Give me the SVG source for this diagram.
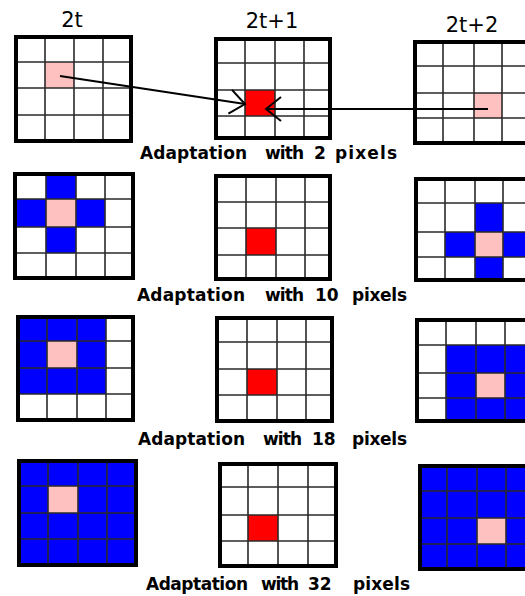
<svg xmlns="http://www.w3.org/2000/svg" width="525" height="596" viewBox="0 0 525 596">
<style>
.bg{fill:#fff}
.pk{fill:#ffc0c0}
.bl{fill:#0000ff}
.rd{fill:#ff0000}
.gl{fill:none;stroke:#2a2a2a;stroke-width:1.6}
.bd{fill:none;stroke:#000;stroke-width:4}
.hd{font-family:"DejaVu Sans",Verdana,sans-serif;font-size:21px;fill:#000;text-anchor:middle}
.lb{font-family:"DejaVu Sans","Liberation Sans",sans-serif;font-weight:bold;font-size:17px;fill:#000}
.cn{fill:none;stroke:#000;stroke-width:2}
</style>
<defs>
<marker id="arr" markerUnits="userSpaceOnUse" viewBox="-20 -15 24 30" markerWidth="24" markerHeight="30" refX="0" refY="0" orient="auto">
<path d="M-15,-12 L0,0 L-15,12" fill="none" stroke="#000" stroke-width="2"/>
</marker>
</defs>
<rect width="525" height="596" fill="#fff"/>

<g id="headers">
<text class="hd" x="72" y="27">2t</text>
<text class="hd" x="272" y="28">2t+1</text>
<text class="hd" x="472" y="32">2t+2</text>
</g>

<!-- Row 1 -->
<g id="g11">
<rect class="bg" x="16" y="37" width="115" height="104"/>
<rect class="pk" x="45" y="62" width="29" height="26"/>
<path class="gl" d="M45,39V139M74,39V139M103,39V139M18,62H129M18,88H129M18,115H129"/>
<rect class="bd" x="16" y="37" width="115" height="104"/>
</g>
<g id="g12">
<rect class="bg" x="216" y="39" width="114" height="99"/>
<rect class="rd" x="245" y="90" width="30" height="26"/>
<path class="gl" d="M245,41V136M275,41V136M304,41V136M218,63H328M218,90H328M218,116H328"/>
<rect class="bd" x="216" y="39" width="114" height="99"/>
</g>
<g id="g13">
<rect class="bg" x="415" y="42" width="118" height="101"/>
<rect class="pk" x="474" y="93" width="28" height="25"/>
<path class="gl" d="M443,44V141M474,44V141M502,44V141M417,66H531M417,93H531M417,118H531"/>
<rect class="bd" x="415" y="42" width="118" height="101"/>
</g>

<!-- Row 2 -->
<g id="g21">
<rect class="bg" x="15" y="174" width="118" height="104"/>
<rect class="bl" x="46" y="176" width="30" height="23"/>
<rect class="bl" x="17" y="199" width="29" height="28"/>
<rect class="bl" x="76" y="199" width="29" height="28"/>
<rect class="bl" x="46" y="227" width="30" height="26"/>
<rect class="pk" x="46" y="199" width="30" height="28"/>
<path class="gl" d="M46,176V276M76,176V276M105,176V276M17,199H131M17,227H131M17,253H131"/>
<rect class="bd" x="15" y="174" width="118" height="104"/>
</g>
<g id="g22">
<rect class="bg" x="216" y="176" width="114" height="103"/>
<rect class="rd" x="246" y="228" width="30" height="27"/>
<path class="gl" d="M246,178V277M276,178V277M305,178V277M218,202H328M218,228H328M218,255H328"/>
<rect class="bd" x="216" y="176" width="114" height="103"/>
</g>
<g id="g23">
<rect class="bg" x="416" y="179" width="117" height="101"/>
<rect class="bl" x="475" y="203" width="28" height="29"/>
<rect class="bl" x="445" y="232" width="30" height="25"/>
<rect class="bl" x="503" y="232" width="28" height="25"/>
<rect class="bl" x="475" y="257" width="28" height="21"/>
<rect class="pk" x="475" y="232" width="28" height="25"/>
<path class="gl" d="M445,181V278M475,181V278M503,181V278M418,203H531M418,232H531M418,257H531"/>
<rect class="bd" x="416" y="179" width="117" height="101"/>
</g>

<!-- Row 3 -->
<g id="g31">
<rect class="bg" x="18" y="317" width="115" height="103"/>
<rect class="bl" x="20" y="319" width="86" height="75"/>
<rect class="pk" x="47" y="341" width="30" height="27"/>
<path class="gl" d="M47,319V418M77,319V418M106,319V418M20,341H131M20,368H131M20,394H131"/>
<rect class="bd" x="18" y="317" width="115" height="103"/>
</g>
<g id="g32">
<rect class="bg" x="217" y="318" width="115" height="103"/>
<rect class="rd" x="247" y="369" width="30" height="26"/>
<path class="gl" d="M247,320V419M277,320V419M306,320V419M219,342H330M219,369H330M219,395H330"/>
<rect class="bd" x="217" y="318" width="115" height="103"/>
</g>
<g id="g33">
<rect class="bg" x="417" y="320" width="116" height="101"/>
<rect class="bl" x="446" y="345" width="85" height="74"/>
<rect class="pk" x="476" y="373" width="29" height="25"/>
<path class="gl" d="M446,322V419M476,322V419M505,322V419M419,345H531M419,373H531M419,398H531"/>
<rect class="bd" x="417" y="320" width="116" height="101"/>
</g>

<!-- Row 4 -->
<g id="g41">
<rect class="bl" x="19" y="461" width="117" height="104"/>
<rect class="pk" x="48" y="486" width="30" height="27"/>
<path class="gl" d="M48,463V563M78,463V563M107,463V563M21,486H134M21,513H134M21,539H134"/>
<rect class="bd" x="19" y="461" width="117" height="104"/>
</g>
<g id="g42">
<rect class="bg" x="220" y="464" width="116" height="102"/>
<rect class="rd" x="248" y="515" width="30" height="26"/>
<path class="gl" d="M248,466V564M278,466V564M308,466V564M222,487H334M222,515H334M222,541H334"/>
<rect class="bd" x="220" y="464" width="116" height="102"/>
</g>
<g id="g43">
<rect class="bl" x="420" y="466" width="113" height="103"/>
<rect class="pk" x="477" y="518" width="29" height="26"/>
<path class="gl" d="M447,468V567M477,468V567M506,468V567M422,491H531M422,518H531M422,544H531"/>
<rect class="bd" x="420" y="466" width="113" height="103"/>
</g>

<g id="connectors">
<line class="cn" x1="60" y1="76" x2="245" y2="104" marker-end="url(#arr)"/>
<line class="cn" x1="488" y1="109" x2="266" y2="109" marker-end="url(#arr)"/>
</g>

<g id="labels">
<text class="lb" x="140" y="159" textLength="107">Adaptation</text>
<text class="lb" x="265" y="159" textLength="39">with</text>
<text class="lb" x="314" y="159">2</text>
<text class="lb" x="335" y="159" textLength="62">pixels</text>

<text class="lb" x="137" y="301" textLength="108">Adaptation</text>
<text class="lb" x="265" y="301" textLength="39">with</text>
<text class="lb" x="315" y="301">10</text>
<text class="lb" x="352" y="301" textLength="55">pixels</text>

<text class="lb" x="138" y="445" textLength="107">Adaptation</text>
<text class="lb" x="263" y="445" textLength="39">with</text>
<text class="lb" x="312" y="445">18</text>
<text class="lb" x="352" y="445" textLength="55">pixels</text>

<text class="lb" x="146" y="590" textLength="102">Adaptation</text>
<text class="lb" x="261" y="590" textLength="38">with</text>
<text class="lb" x="308" y="590">32</text>
<text class="lb" x="353" y="590" textLength="57">pixels</text>
</g>
</svg>
